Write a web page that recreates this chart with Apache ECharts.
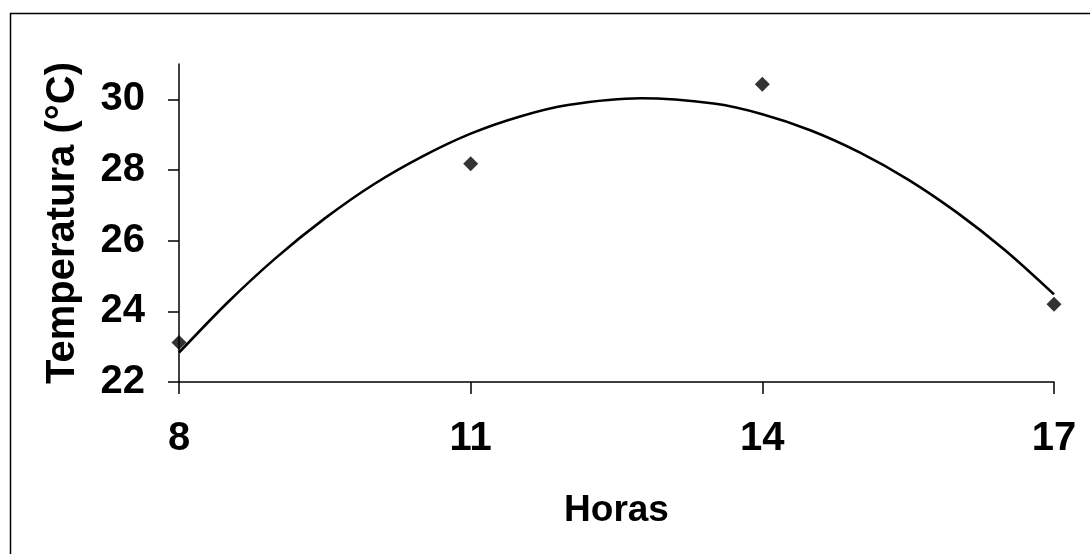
<!DOCTYPE html>
<html>
<head>
<meta charset="utf-8">
<script src="https://cdn.jsdelivr.net/npm/echarts@6/dist/echarts.min.js"></script>
<style>html,body{margin:0;padding:0;background:#fff}#c{width:1090px;height:554px}</style>
</head>
<body>
<div id="c"></div>
<script>
// Observed points (hour, temperature)
const hours = [8, 11, 14, 17];
const temps = [23.12, 28.18, 30.43, 24.2];
// Trend line (peak near 12.75 h)
const trendHours = [8, 8.5, 9, 9.5, 10, 10.5, 11, 11.5, 12, 12.75, 13.5, 14, 14.5, 15, 15.5, 16, 16.5, 17];
const trendTemps = [22.83, 24.25, 25.52, 26.63, 27.59, 28.38, 29.03, 29.51, 29.84, 30.03, 29.88, 29.58, 29.12, 28.5, 27.73, 26.8, 25.72, 24.48];
const xTicks = [8, 11, 14, 17];
const yTicks = [22, 24, 26, 28, 30];

const chart = echarts.init(document.getElementById('c'), null, {renderer: 'canvas'});
const font = '"Liberation Sans", Arial, sans-serif';
chart.setOption({
  animation: false,
  backgroundColor: '#fff',
  graphic: [{
    type: 'rect', left: 8, top: 11,
    shape: {x: 0, y: 0, width: 1200, height: 700},
    style: {fill: 'none', stroke: '#000', lineWidth: 1.5},
    silent: true
  }],
  grid: {left: 179, right: 36, top: 64, bottom: 172, containLabel: false},
  xAxis: {
    type: 'value', min: 8, max: 17,
    name: 'Horas', nameLocation: 'middle', nameGap: 110,
    nameTextStyle: {fontFamily: font, fontWeight: 'bold', fontSize: 37, color: '#000'},
    axisLine: {show: true, lineStyle: {color: '#000', width: 1.5}},
    axisTick: {show: true, inside: false, length: 12, customValues: xTicks, lineStyle: {color: '#000', width: 1.5}},
    axisLabel: {customValues: xTicks, margin: 37, fontFamily: font, fontWeight: 'bold', fontSize: 40, color: '#000'},
    splitLine: {show: false}
  },
  yAxis: {
    type: 'value', min: 22, max: 31,
    name: 'Temperatura (°C)', nameLocation: 'middle', nameGap: 96, nameRotate: 90,
    nameTextStyle: {fontFamily: font, fontWeight: 'bold', fontSize: 40, color: '#000'},
    axisLine: {show: true, lineStyle: {color: '#000', width: 1.5}},
    axisTick: {show: true, inside: false, length: 11, customValues: yTicks, lineStyle: {color: '#000', width: 1.5}},
    axisLabel: {customValues: yTicks, margin: 34, fontFamily: font, fontWeight: 'bold', fontSize: 40, color: '#000'},
    splitLine: {show: false}
  },
  series: [{
    type: 'line',
    data: trendHours.map((h, i) => [h, trendTemps[i]]),
    smooth: 0.3, showSymbol: false, symbol: 'none',
    lineStyle: {color: '#000', width: 2.6},
    z: 2
  }, {
    type: 'scatter',
    data: hours.map((h, i) => [h, temps[i]]),
    symbol: 'diamond', symbolSize: 15,
    itemStyle: {color: '#000'},
    z: 3
  }]
});
</script>
</body>
</html>
